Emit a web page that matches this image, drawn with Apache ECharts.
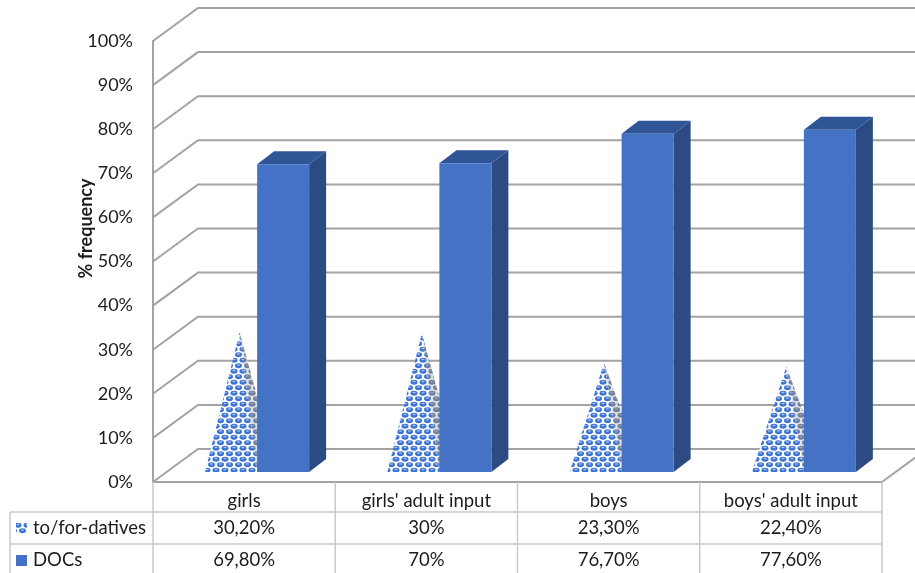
<!DOCTYPE html>
<html>
<head>
<meta charset="utf-8">
<style>
  html, body { margin: 0; padding: 0; background: #fff; }
  #main { width: 915px; height: 573px; }
</style>
<script src="https://cdn.jsdelivr.net/npm/echarts@6/dist/echarts.min.js"></script>
</head>
<body>
<div id="main"></div>
<script>
var categories = ['girls', "girls' adult input", 'boys', "boys' adult input"];
var datives = [30.2, 30, 23.3, 22.4];
var docs = [69.8, 70, 76.7, 77.6];
var yTicks = [0, 10, 20, 30, 40, 50, 60, 70, 80, 90, 100];
var datName = 'to/for-datives';
var docName = 'DOCs';

// 3d look: how far the back wall and the bars sit from the front plane
var wallDx = 45, wallDy = 33;
var barDx = 13, barDy = 10;
var barW = 52, sideDx = 17, sideDy = 13;
var lineCol = '#a3a3a3', tableCol = '#c9c9c9', textCol = '#1c1c1c';
var font = '18.5px Lato';

function makePattern(ball, shine, bg) {
    var c = document.createElement('canvas');
    c.width = 9; c.height = 11;
    var g = c.getContext('2d');
    g.fillStyle = bg;
    g.fillRect(0, 0, 9, 11);
    [[4.5, 2.75], [0, 8.25], [9, 8.25]].forEach(function (p) {
        g.fillStyle = ball;
        g.beginPath(); g.ellipse(p[0], p[1], 3.5, 2.4, 0, 0, Math.PI * 2); g.fill();
        g.fillStyle = shine;
        g.beginPath(); g.ellipse(p[0], p[1] - 0.8, 1.7, 0.8, 0, 0, Math.PI * 2); g.fill();
    });
    return { image: c, repeat: 'repeat' };
}
var frontPat = makePattern('#3d73d2', '#a6c3ef', '#ffffff');
var sidePat = makePattern('#6f7f9c', '#98a4ba', '#dfe2e7');

function fmt(v) {
    return Number.isInteger(v) ? v + '%' : v.toFixed(2).replace('.', ',') + '%';
}

function renderWall(params, api) {
    var cs = params.coordSys;
    var y = api.coord([0, api.value(0)])[1];
    var x0 = cs.x, x1 = cs.x + cs.width;
    var kids = [{
        type: 'polyline',
        shape: { points: [[x0, y], [x0 + wallDx, y - wallDy], [x1 + wallDx, y - wallDy]] },
        style: { stroke: lineCol, lineWidth: 2, fill: null }
    }];
    if (api.value(0) === 0) {
        kids.push({
            type: 'line',
            shape: { x1: x1, y1: y, x2: x1 + wallDx, y2: y - wallDy },
            style: { stroke: lineCol, lineWidth: 2 }
        });
    }
    return { type: 'group', children: kids };
}

function renderPyramid(params, api) {
    var p = api.coord([api.value(0), api.value(1)]);
    var base = api.coord([api.value(0), 0]);
    var right = base[0] + barDx;
    var left = right - barW;
    var by = base[1] - barDy;
    var apex = [(left + right + sideDx) / 2, p[1] - barDy - sideDy / 2];
    return {
        type: 'group',
        children: [{
            type: 'polygon',
            shape: { points: [[right, by], [right + sideDx, by - sideDy], apex] },
            style: { fill: sidePat }
        }, {
            type: 'polygon',
            shape: { points: [[left, by], [right, by], apex] },
            style: { fill: frontPat }
        }]
    };
}

function renderBar(params, api) {
    var p = api.coord([api.value(0), api.value(1)]);
    var base = api.coord([api.value(0), 0]);
    var l = p[0] + barDx, r = l + barW;
    var t = p[1] - barDy, b = base[1] - barDy;
    return {
        type: 'group',
        children: [{
            type: 'polygon',
            shape: { points: [[r, t], [r + sideDx, t - sideDy], [r + sideDx, b - sideDy], [r, b]] },
            style: { fill: '#2b4b82' }
        }, {
            type: 'polygon',
            shape: { points: [[l, t], [l + sideDx, t - sideDy], [r + sideDx, t - sideDy], [r, t]] },
            style: { fill: '#2f5597' }
        }, {
            type: 'rect',
            shape: { x: l, y: t, width: barW, height: b - t },
            style: { fill: '#4472c4' }
        }]
    };
}

// data table under the plot, one row per series, bottom edge runs off the page
function renderTable(params, api) {
    var cs = params.coordSys;
    var top = cs.y + cs.height;
    var rowY = [top + 30, top + 62, top + 94];
    var tableLeft = 10, band = cs.width / categories.length;
    var kids = [];
    function line(x1, y1, x2, y2) {
        kids.push({ type: 'line', shape: { x1: x1, y1: y1, x2: x2, y2: y2 },
            style: { stroke: tableCol, lineWidth: 1.5 } });
    }
    function text(s, x, y, align) {
        kids.push({ type: 'text', style: { text: s, x: x, y: y, textAlign: align,
            textVerticalAlign: 'middle', font: font, fill: textCol } });
    }
    line(tableLeft, rowY[0], cs.x + cs.width, rowY[0]);
    line(tableLeft, rowY[1], cs.x + cs.width, rowY[1]);
    line(tableLeft, rowY[0], tableLeft, rowY[2]);
    for (var k = 0; k <= categories.length; k++) {
        line(cs.x + band * k, top, cs.x + band * k, rowY[2]);
    }
    [[datName, datives, frontPat], [docName, docs, '#4472c4']].forEach(function (row, r) {
        var mid = (rowY[r] + rowY[r + 1]) / 2;
        kids.push({ type: 'rect', shape: { x: 16, y: mid - 5, width: 11, height: 11 }, style: { fill: row[2] } });
        text(row[0], 33, mid, 'left');
        row[1].forEach(function (v, i) {
            text(fmt(v), cs.x + band * (i + 0.5), mid, 'center');
        });
    });
    return { type: 'group', children: kids };
}

var myChart = echarts.init(document.getElementById('main'));
var option = {
    animation: false,
    backgroundColor: '#fff',
    grid: { left: 153, top: 41, width: 729, height: 441 },
    xAxis: {
        type: 'category',
        data: categories,
        axisLine: { lineStyle: { color: lineCol, width: 2 } },
        axisTick: { show: false },
        axisLabel: { color: textCol, fontFamily: 'Lato', fontSize: 18.5, margin: 10 }
    },
    yAxis: {
        type: 'value',
        min: 0,
        max: 100,
        interval: 10,
        name: '% frequency',
        nameLocation: 'middle',
        nameGap: 58,
        nameMoveOverlap: false,
        nameRotate: 90,
        nameTextStyle: { color: textCol, fontFamily: 'Lato', fontSize: 18, fontWeight: 'bold', padding: [0, 0, 0, 66] },
        axisLine: { show: true, lineStyle: { color: lineCol, width: 2 } },
        axisTick: { show: false },
        splitLine: { show: false },
        axisLabel: { color: textCol, fontFamily: 'Lato', fontSize: 18, margin: 20, padding: [4, 0, 0, 0], formatter: '{value}%' }
    },
    series: [
        { type: 'custom', name: 'wall', silent: true, z: 1, clip: false, renderItem: renderWall,
          data: yTicks.map(function (v) { return [v]; }), encode: { y: 0 } },
        { type: 'custom', name: datName, z: 2, renderItem: renderPyramid,
          data: datives.map(function (v, i) { return [i, v]; }), encode: { x: 0, y: 1 } },
        { type: 'custom', name: docName, z: 3, renderItem: renderBar,
          data: docs.map(function (v, i) { return [i, v]; }), encode: { x: 0, y: 1 } },
        { type: 'custom', name: 'table', silent: true, z: 4, renderItem: renderTable,
          data: [[0, 0]], encode: { x: 0, y: 1 } }
    ]
};
myChart.setOption(option);
</script>
</body>
</html>
